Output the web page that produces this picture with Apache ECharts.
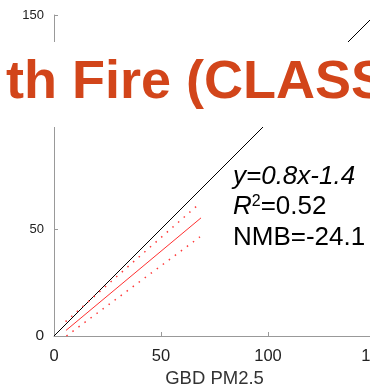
<!DOCTYPE html>
<html><head><meta charset="utf-8">
<script src="https://cdn.jsdelivr.net/npm/echarts@6/dist/echarts.min.js"></script>
<style>html,body{margin:0;padding:0;background:#fff}#c{width:370px;height:390px}</style>
</head><body><div id="c"></div>
<script>
// data
const oneToOne = [[0, 0], [150, 150]];
const fitLine = [[5.6, 2.6], [68.7, 55.2]];
const upperBand = [[5.4, 6.7], [67.8, 61.7]];
const lowerBand = [[5.8, 0.0], [68.2, 46.3]];
const xTicks = [0, 50, 100, 150];
const yTicks = [0, 50, 100, 150];
const titleText = 'th Fire (CLASS';
const xName = 'GBD PM2.5';
const eqText = 'y=0.8x-1.4';
const r2Text = '0.52';
const nmbText = 'NMB=-24.1';

const FONT = '"Liberation Sans", Arial, sans-serif';
const chart = echarts.init(document.getElementById('c'));
chart.setOption({
  animation: false,
  backgroundColor: '#fff',
  grid: { left: 54, top: 15, bottom: 54, right: -5, outerBoundsMode: 'none', containLabel: false },
  xAxis: {
    type: 'value', min: xTicks[0], max: xTicks[xTicks.length - 1], interval: 50,
    name: xName, nameLocation: 'middle', nameGap: 30,
    nameTextStyle: { fontFamily: FONT, fontSize: 18.5, color: '#333' },
    axisLine: { lineStyle: { color: '#999', width: 1 } },
    axisTick: { inside: true, length: 4, lineStyle: { color: '#999' } },
    axisLabel: { fontFamily: FONT, fontSize: 16.5, color: '#222', margin: 12, showMaxLabel: true },
    splitLine: { show: false }
  },
  yAxis: {
    type: 'value', min: yTicks[0], max: yTicks[yTicks.length - 1], interval: 50,
    axisLine: { show: true, lineStyle: { color: '#999', width: 1 } },
    axisTick: { show: true, inside: true, length: 4, lineStyle: { color: '#999' } },
    axisLabel: {
      fontFamily: FONT, fontSize: 13, color: '#222', margin: 10,
      formatter: v => v === 0 ? '{big|0}' : String(v),
      rich: { big: { fontFamily: FONT, fontSize: 15.5, color: '#222' } }
    },
    splitLine: { show: false }
  },
  series: [
    { type: 'line', data: oneToOne, symbol: 'none', lineStyle: { color: '#000', width: 1 }, z: 3 },
    { type: 'line', data: fitLine, symbol: 'none', lineStyle: { color: '#ff3030', width: 1 }, z: 4 },
    { type: 'line', data: upperBand, symbol: 'none', lineStyle: { color: '#ff3a3a', width: 1.5, type: [1.5, 6] }, z: 4 },
    { type: 'line', data: lowerBand, symbol: 'none', lineStyle: { color: '#ff3a3a', width: 1.5, type: [1.5, 6] }, z: 4 }
  ],
  graphic: [
    { type: 'rect', left: 0, top: 42, z: 100, shape: { width: 370, height: 85 }, style: { fill: '#fff' } },
    { type: 'text', x: 6, y: 56, z: 101, style: { text: titleText, fontFamily: FONT, fontWeight: 'bold', fontSize: 54, fill: '#d2451a', align: 'left' } },
    { type: 'text', x: 233, y: 164, z: 101, style: { text: eqText, fontFamily: FONT, fontStyle: 'italic', fontSize: 26, fill: '#000' } },
    { type: 'text', x: 233, y: 194, z: 101, style: {
      text: '{i|R}{s|2}{n|=' + r2Text + '}',
      rich: {
        i: { fontFamily: FONT, fontStyle: 'italic', fontSize: 26, fill: '#000', color: '#000' },
        s: { fontFamily: FONT, fontSize: 16, fill: '#000', color: '#000', verticalAlign: 'top', padding: [0, 0, 10, 0] },
        n: { fontFamily: FONT, fontSize: 26, fill: '#000', color: '#000' }
      } } },
    { type: 'text', x: 233, y: 225, z: 101, style: { text: nmbText, fontFamily: FONT, fontSize: 26, fill: '#000' } }
  ]
});
</script></body></html>
